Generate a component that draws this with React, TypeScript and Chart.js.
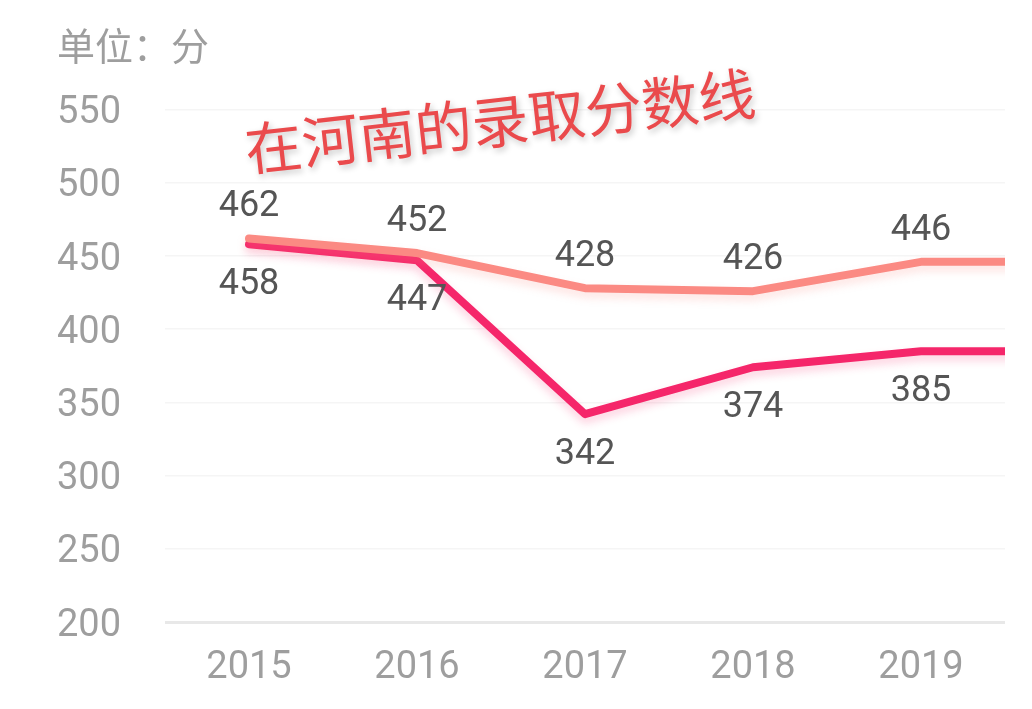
import { useEffect, useRef } from 'react';
import { Chart, registerables } from 'chart.js';

Chart.register(...registerables);

// 年份 (2020 只用来画出被裁掉的右端延伸)
const years = [2015, 2016, 2017, 2018, 2019, 2020];
const tickYears = [2015, 2016, 2017, 2018, 2019];
const lineLight = [462, 452, 428, 426, 446, 446];
const lineDark = [458, 447, 342, 374, 385, 385];
const yTicks = [200, 250, 300, 350, 400, 450, 500, 550];

const unitTitle = '单位：分';
const stampText = '在河南的录取分数线';

const FONT = "Roboto, 'Noto Sans CJK SC', sans-serif";
const LIGHT = '#fb8a83';
const DARK = '#f5266a';

export default function App() {
  const canvasRef = useRef<HTMLCanvasElement>(null);

  useEffect(() => {
    if (!canvasRef.current) return;

    // 数值标签 + 倾斜的红字
    const labelPlugin = {
      id: 'valueLabels',
      beforeDatasetDraw(chart: any, args: any) {
        const ctx = chart.ctx;
        ctx.save();
        ctx.shadowColor = args.index === 1 ? 'rgba(245,38,106,0.22)' : 'rgba(251,138,131,0.25)';
        ctx.shadowBlur = 8;
        ctx.shadowOffsetY = 5;
      },
      afterDatasetDraw(chart: any) {
        chart.ctx.restore();
      },
      afterDraw(chart: any) {
        const ctx = chart.ctx;
        ctx.save();
        ctx.font = `36px ${FONT}`;
        ctx.fillStyle = '#555555';
        ctx.textAlign = 'center';
        ctx.textBaseline = 'middle';
        chart.data.datasets.forEach((ds: any, i: number) => {
          const meta = chart.getDatasetMeta(i);
          meta.data.forEach((pt: any, j: number) => {
            if (j >= tickYears.length) return;
            const dy = i === 0 ? -31 : 41;
            ctx.fillText(String(ds.data[j].y), pt.x, pt.y + dy);
          });
        });
        ctx.restore();

        ctx.save();
        ctx.translate(500, 121);
        ctx.rotate(-0.112);
        ctx.font = `57px 'Noto Sans CJK SC', sans-serif`;
        ctx.textAlign = 'center';
        ctx.textBaseline = 'middle';
        ctx.shadowColor = 'rgba(0,0,0,0.22)';
        ctx.shadowBlur = 6;
        ctx.shadowOffsetX = 2;
        ctx.shadowOffsetY = 3;
        ctx.fillStyle = '#ea4a4c';
        ctx.fillText(stampText, 0, 0);
        ctx.restore();
      }
    };

    const chart = new Chart(canvasRef.current, {
      type: 'line',
      data: {
        datasets: [
          {
            label: 'light',
            data: years.map((x, i) => ({ x, y: lineLight[i] })),
            borderColor: LIGHT,
            borderWidth: 8,
            pointRadius: 0,
            tension: 0,
            borderCapStyle: 'round',
            borderJoinStyle: 'round'
          },
          {
            label: 'dark',
            data: years.map((x, i) => ({ x, y: lineDark[i] })),
            borderColor: DARK,
            borderWidth: 8,
            pointRadius: 0,
            tension: 0,
            borderCapStyle: 'round',
            borderJoinStyle: 'round'
          }
        ]
      },
      options: {
        animation: false,
        responsive: true,
        maintainAspectRatio: false,
        layout: { padding: { top: 10, left: 57, right: 27, bottom: 0 } },
        plugins: {
          legend: { display: false },
          tooltip: { enabled: false },
          title: {
            display: true,
            text: unitTitle,
            align: 'start',
            color: '#9e9e9e',
            font: { family: FONT, size: 38, weight: 'normal' },
            padding: { top: 18, bottom: 36 }
          }
        },
        scales: {
          x: {
            type: 'linear',
            min: 2014.5,
            max: 2019.5,
            afterBuildTicks: (s: any) => {
              s.ticks = tickYears.map((v) => ({ value: v }));
            },
            grid: { display: false },
            border: { display: false },
            ticks: {
              color: '#9e9e9e',
              font: { family: FONT, size: 38 },
              padding: 16,
              maxRotation: 0,
              callback: (v: any) => String(v)
            },
            afterFit: (s: any) => {
              s.height = 87;
            }
          },
          y: {
            min: 200,
            max: 550,
            afterBuildTicks: (s: any) => {
              s.ticks = yTicks.map((v) => ({ value: v }));
            },
            border: { display: false },
            grid: {
              drawTicks: false,
              color: (c: any) => (c.tick && c.tick.value === 200 ? '#e8e8e8' : '#f5f5f5'),
              lineWidth: (c: any) => (c.tick && c.tick.value === 200 ? 3 : 1.5)
            },
            ticks: {
              color: '#9e9e9e',
              font: { family: FONT, size: 38 },
              crossAlign: 'far',
              padding: 10,
              labelOffset: 4
            },
            afterFit: (s: any) => {
              s.width = 108;
            }
          }
        }
      },
      plugins: [labelPlugin]
    });

    return () => chart.destroy();
  }, []);

  return (
    <div style={{ position: 'absolute', left: 0, top: 0, width: 1032, height: 709, background: '#ffffff' }}>
      <canvas ref={canvasRef}></canvas>
    </div>
  );
}
